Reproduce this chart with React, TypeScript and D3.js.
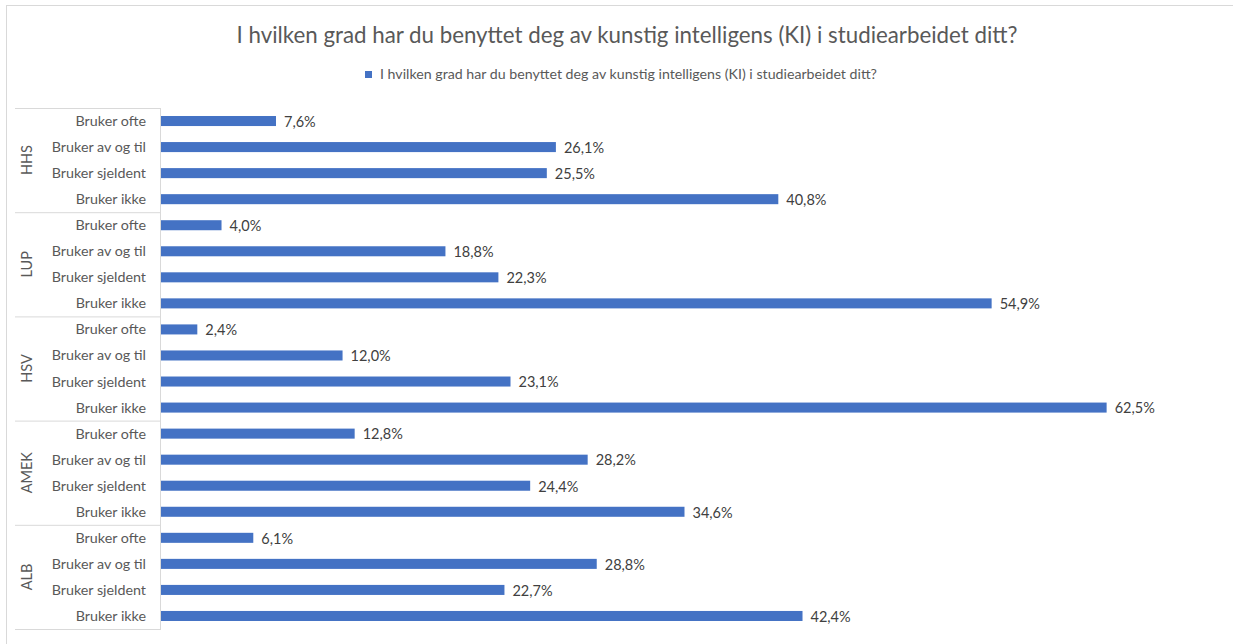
import React from "react";
import * as d3 from "d3";

const title = "I hvilken grad har du benyttet deg av kunstig intelligens (KI) i studiearbeidet ditt?";
const groups = ["HHS", "LUP", "HSV", "AMEK", "ALB"];
const categories = ["Bruker ofte", "Bruker av og til", "Bruker sjeldent", "Bruker ikke"];
const hhs = [7.6, 26.1, 25.5, 40.8];
const lup = [4.0, 18.8, 22.3, 54.9];
const hsv = [2.4, 12.0, 23.1, 62.5];
const amek = [12.8, 28.2, 24.4, 34.6];
const alb = [6.1, 28.8, 22.7, 42.4];
const seriesValues = [hhs, lup, hsv, amek, alb];

const W = 1233;
const H = 644;
const FONT = "Lato, 'Open Sans', sans-serif";
const BLUE = "#4472C4";
const GRID = "#d9d9d9";
const TXT = "#595959";

export default function App() {
  const rows = groups.flatMap((g, gi) =>
    categories.map((c, ci) => ({ key: `${g}-${c}`, group: g, cat: c, value: seriesValues[gi][ci] }))
  );
  const plotLeft = 161;
  const plotTop = 108;
  const plotBottom = 629;
  const x = d3.scaleLinear().domain([0, 70]).range([plotLeft, plotLeft + 70 * 15.13]);
  const y = d3
    .scaleBand<string>()
    .domain(rows.map((r) => r.key))
    .range([plotTop, plotBottom])
    .paddingInner(0.615)
    .paddingOuter(0.3075);
  const gy = d3.scaleBand<string>().domain(groups).range([plotTop, plotBottom]);
  const fmt = (v: number) => v.toFixed(1).replace(".", ",") + "%";

  return (
    <svg
      width={W}
      height={H}
      style={{ position: "absolute", left: 0, top: 0, background: "#fff" }}
      fontFamily={FONT}
    >
      <rect x={6.5} y={5.5} width={W + 10} height={H + 10} fill="#fff" stroke={GRID} />
      <text x={627} y={43} textAnchor="middle" fontSize={22.3} fill={TXT}>
        {title}
      </text>
      <rect x={365} y={71} width={7} height={7} fill={BLUE} />
      <text x={380} y={79} fontSize={14.2} fill={TXT}>
        {title}
      </text>
      {/* category axis box */}
      <line x1={plotLeft - 0.5} x2={plotLeft - 0.5} y1={plotTop} y2={plotBottom} stroke={GRID} />
      {groups.map((g) => (
        <line key={"t" + g} x1={15} x2={plotLeft} y1={(gy(g) as number) + 0.5} y2={(gy(g) as number) + 0.5} stroke={GRID} />
      ))}
      <line x1={15} x2={plotLeft} y1={plotBottom + 0.5} y2={plotBottom + 0.5} stroke={GRID} />
      {groups.map((g) => {
        const cy = (gy(g) as number) + gy.bandwidth() / 2;
        return (
          <text
            key={"g" + g}
            transform={`translate(32,${cy}) rotate(-90)`}
            textAnchor="middle"
            fontSize={14.5}
            fill={TXT}
          >
            {g}
          </text>
        );
      })}
      {rows.map((r) => {
        const cy = (y(r.key) as number) + y.bandwidth() / 2;
        return (
          <g key={r.key}>
            <text x={146} y={cy} dy="0.35em" textAnchor="end" fontSize={14.3} fill={TXT}>
              {r.cat}
            </text>
            <rect x={x(0)} y={y(r.key)} width={x(r.value) - x(0)} height={y.bandwidth()} fill={BLUE} />
            <text x={x(r.value) + 8} y={cy} dy="0.4em" fontSize={14.5} fill="#404040">
              {fmt(r.value)}
            </text>
          </g>
        );
      })}
    </svg>
  );
}
